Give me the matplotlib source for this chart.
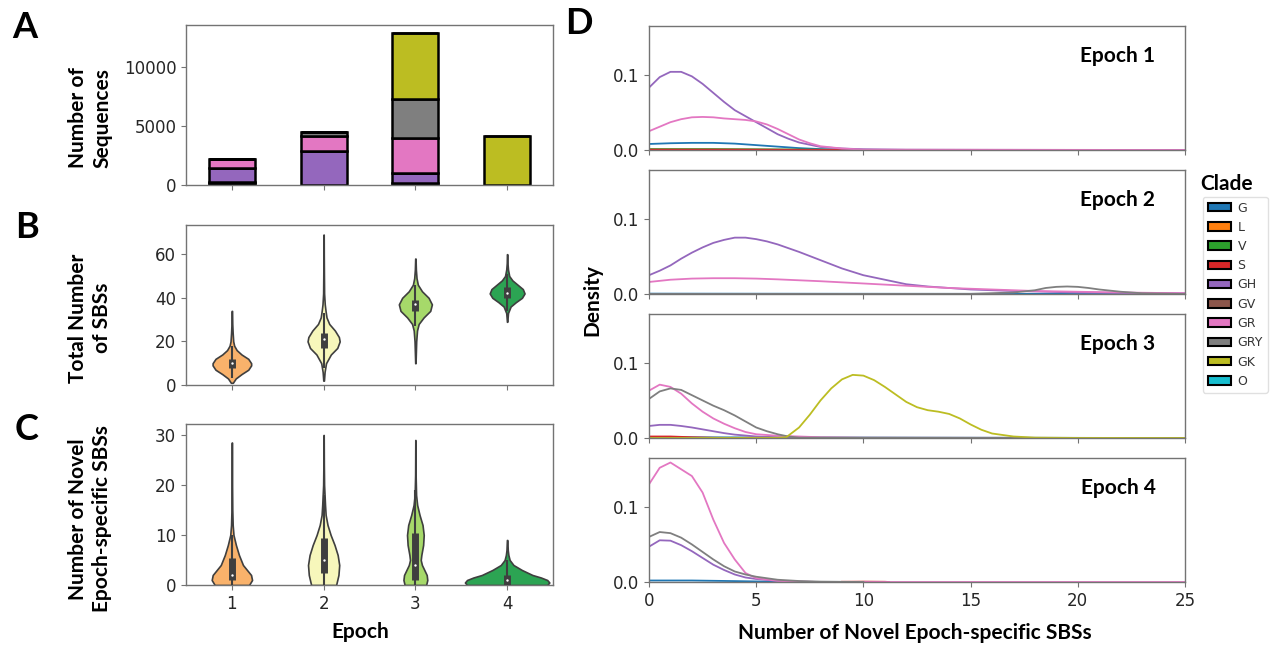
import matplotlib
matplotlib.use('Agg')
import matplotlib.pyplot as plt
from matplotlib.patches import Patch

plt.rcParams.update({
    'font.family': 'DejaVu Sans',
    'axes.edgecolor': '0.45',
    'axes.linewidth': 1.0,
    'xtick.color': '0.45',
    'ytick.color': '0.45',
    'xtick.labelcolor': '0.15',
    'ytick.labelcolor': '0.15',
    'xtick.labelsize': 12,
    'ytick.labelsize': 12,
    'xtick.major.size': 3.5,
    'ytick.major.size': 3.5,
})
BOLD = dict(family='Lato', weight='bold', color='black')

EPOCHS = ['1', '2', '3', '4']
CLADES = ['G', 'L', 'V', 'S', 'GH', 'GV', 'GR', 'GRY', 'GK', 'O']
CLADE_COLORS = ['#1f77b4', '#ff7f0e', '#2ca02c', '#d62728', '#9467bd',
                '#8c564b', '#e377c2', '#7f7f7f', '#bcbd22', '#17becf']
EPOCH_COLORS = ['#f9b26b', '#f7f7bb', '#a6d96a', '#2ca453']

# ---- Panel A: number of sequences per clade, per epoch
SEQ_G = [150, 0, 200, 20]
SEQ_L = [20, 0, 0, 0]
SEQ_V = [40, 0, 0, 0]
SEQ_S = [20, 0, 0, 0]
SEQ_GH = [1190, 2920, 850, 0]
SEQ_GV = [0, 0, 0, 0]
SEQ_GR = [790, 1270, 2970, 0]
SEQ_GRY = [0, 280, 3260, 0]
SEQ_GK = [0, 0, 5610, 4090]
SEQ_O = [0, 0, 0, 0]
SEQ_ALL = [SEQ_G, SEQ_L, SEQ_V, SEQ_S, SEQ_GH, SEQ_GV, SEQ_GR, SEQ_GRY, SEQ_GK, SEQ_O]

# ---- Panel B: total SBS violin profiles (value, relative density)
B1_Y = [1, 3, 5, 7, 9, 10, 12, 14, 16, 18, 20, 24, 28, 34]
B1_W = [0.05, 0.2, 0.5, 0.85, 1.0, 1.0, 0.85, 0.5, 0.25, 0.12, 0.07, 0.04, 0.02, 0.01]
B2_Y = [2, 6, 10, 14, 17, 20, 22, 25, 28, 31, 34, 37, 42, 50, 60, 69]
B2_W = [0.02, 0.06, 0.15, 0.45, 0.85, 1.0, 0.95, 0.7, 0.35, 0.18, 0.12, 0.07, 0.03, 0.02, 0.01, 0.005]
B3_Y = [10, 15, 20, 25, 28, 31, 34, 37, 40, 43, 46, 49, 53, 58]
B3_W = [0.01, 0.03, 0.05, 0.1, 0.2, 0.5, 0.9, 1.0, 0.8, 0.4, 0.15, 0.07, 0.03, 0.01]
B4_Y = [29, 33, 36, 38, 40, 42, 44, 46, 48, 50, 53, 56, 60]
B4_W = [0.01, 0.05, 0.2, 0.5, 0.85, 1.0, 0.9, 0.6, 0.3, 0.12, 0.05, 0.02, 0.01]
B_WIDTHS = [0.42, 0.35, 0.36, 0.38]
B_Q1 = [8, 17, 34, 40]
B_MED = [10, 21, 37, 42]
B_Q3 = [12, 24, 39, 45]
B_LO = [3, 8, 27, 34]
B_HI = [18, 33, 46, 51]

# ---- Panel C: novel epoch-specific SBS violin profiles
C1_Y = [0, 1, 2, 3, 4, 6, 8, 10, 12, 15, 20, 28.5]
C1_W = [0.85, 1.0, 0.95, 0.75, 0.55, 0.35, 0.2, 0.08, 0.04, 0.02, 0.01, 0.005]
C2_Y = [0, 2, 4, 6, 8, 10, 12, 14, 16, 18, 20, 24, 30]
C2_W = [0.8, 0.95, 1.0, 0.9, 0.7, 0.45, 0.25, 0.13, 0.09, 0.06, 0.03, 0.015, 0.005]
C3_Y = [0, 1, 2, 3, 4, 5, 6, 8, 10, 12, 14, 16, 18, 22, 29]
C3_W = [0.9, 1.0, 0.95, 0.75, 0.55, 0.45, 0.5, 0.65, 0.7, 0.6, 0.35, 0.15, 0.06, 0.02, 0.005]
C4_Y = [0, 0.5, 1, 1.5, 2, 3, 4, 5, 6, 7, 9]
C4_W = [0.95, 1.0, 0.95, 0.8, 0.6, 0.35, 0.15, 0.06, 0.03, 0.015, 0.005]
C_WIDTHS = [0.44, 0.34, 0.26, 0.92]
C_Q1 = [1, 2.5, 1, 0]
C_MED = [2, 5, 4, 1]
C_Q3 = [5.5, 9.5, 10.5, 2]
C_LO = [0, 0, 0, 0]
C_HI = [10, 18, 19, 5]

# ---- Panel D: density curves (x, density) per epoch and clade
E1_G_X = [0, 1, 2, 3, 4, 5, 6, 7, 8, 9, 10, 25]
E1_G_Y = [0.008, 0.009, 0.0095, 0.0095, 0.0085, 0.0065, 0.0045, 0.0025, 0.0012, 0.0005, 0.0002, 0.0]
E1_L_X = [0, 5, 10]
E1_L_Y = [0.0003, 0.0002, 0.0]
E1_V_X = [0, 3, 6, 9, 12]
E1_V_Y = [0.0012, 0.0012, 0.0008, 0.0003, 0.0]
E1_S_X = [0, 4, 8, 10]
E1_S_Y = [0.0005, 0.0005, 0.0002, 0.0]
E1_GH_X = [0, 0.5, 1, 1.5, 2, 2.5, 3, 3.5, 4, 4.5, 5, 5.5, 6, 6.5, 7, 8, 9, 10, 12, 25]
E1_GH_Y = [0.083, 0.097, 0.104, 0.104, 0.098, 0.088, 0.076, 0.064, 0.053, 0.045, 0.037,
           0.029, 0.021, 0.015, 0.010, 0.004, 0.002, 0.001, 0.0003, 0.0]
E1_GR_X = [0, 0.5, 1, 1.5, 2, 2.5, 3, 3.5, 4, 4.5, 5, 5.5, 6, 6.5, 7, 7.5, 8, 9, 10, 25]
E1_GR_Y = [0.025, 0.031, 0.037, 0.041, 0.0435, 0.044, 0.0435, 0.042, 0.041, 0.040, 0.038,
           0.034, 0.028, 0.021, 0.014, 0.009, 0.005, 0.002, 0.0005, 0.0]

E2_G_X = [0, 25]
E2_G_Y = [0.0005, 0.0]
E2_GH_X = [0, 0.5, 1, 1.5, 2, 2.5, 3, 3.5, 4, 4.5, 5, 5.5, 6, 7, 8, 9, 10, 11, 12, 13, 14, 15, 17, 20, 25]
E2_GH_Y = [0.025, 0.031, 0.038, 0.047, 0.055, 0.062, 0.068, 0.072, 0.075, 0.075, 0.073, 0.070,
           0.066, 0.056, 0.045, 0.034, 0.025, 0.019, 0.013, 0.010, 0.008, 0.006, 0.004, 0.002, 0.001]
E2_GR_X = [0, 1, 2, 3, 4, 5, 6, 8, 10, 12, 14, 16, 18, 20, 22, 25]
E2_GR_Y = [0.016, 0.019, 0.0205, 0.021, 0.021, 0.0205, 0.0195, 0.017, 0.014, 0.011, 0.008,
           0.006, 0.004, 0.003, 0.002, 0.001]
E2_GRY_X = [0, 15, 17, 18, 18.5, 19, 19.5, 20, 20.5, 21, 22, 23, 25]
E2_GRY_Y = [0.0, 0.0002, 0.002, 0.005, 0.008, 0.0095, 0.010, 0.0095, 0.008, 0.006, 0.003, 0.001, 0.0]

E3_G_X = [0, 10, 25]
E3_G_Y = [0.001, 0.0005, 0.0]
E3_S_X = [0, 1, 2, 3, 4]
E3_S_Y = [0.002, 0.002, 0.001, 0.0003, 0.0]
E3_GH_X = [0, 0.5, 1, 1.5, 2, 2.5, 3, 3.5, 4, 5, 6, 8, 25]
E3_GH_Y = [0.016, 0.0175, 0.0175, 0.016, 0.014, 0.0115, 0.009, 0.0065, 0.0045, 0.002, 0.001, 0.0002, 0.0]
E3_GR_X = [0, 0.5, 1, 1.5, 2, 2.5, 3, 3.5, 4, 4.5, 5, 6, 7, 8, 10, 25]
E3_GR_Y = [0.063, 0.071, 0.068, 0.059, 0.046, 0.035, 0.026, 0.019, 0.013, 0.008, 0.005,
           0.003, 0.002, 0.001, 0.0003, 0.0]
E3_GRY_X = [0, 0.5, 1, 1.5, 2, 2.5, 3, 3.5, 4, 4.5, 5, 5.5, 6, 6.5, 7, 25]
E3_GRY_Y = [0.052, 0.062, 0.066, 0.064, 0.057, 0.050, 0.043, 0.037, 0.030, 0.022, 0.014,
            0.009, 0.005, 0.002, 0.0005, 0.0]
E3_GK_X = [0, 6, 6.4, 7, 7.5, 8, 8.5, 9, 9.5, 10, 10.5, 11, 11.5, 12, 12.5, 13, 13.5, 14,
           14.5, 15, 15.5, 16, 17, 18, 20, 25]
E3_GK_Y = [0.0, 0.0003, 0.001, 0.014, 0.031, 0.050, 0.066, 0.078, 0.084, 0.083, 0.077, 0.068,
           0.058, 0.048, 0.041, 0.037, 0.035, 0.032, 0.026, 0.018, 0.011, 0.006, 0.002, 0.0005,
           0.0001, 0.0]

E4_G_X = [0, 2, 4, 6, 8]
E4_G_Y = [0.002, 0.002, 0.0012, 0.0003, 0.0]
E4_S_X = [9, 10, 11, 11.2]
E4_S_Y = [0.0003, 0.0005, 0.0003, 0.0]
E4_GH_X = [0, 0.5, 1, 1.5, 2, 2.5, 3, 3.5, 4, 4.5, 5, 6, 7, 8]
E4_GH_Y = [0.047, 0.0555, 0.055, 0.049, 0.041, 0.032, 0.023, 0.016, 0.010, 0.006, 0.004,
           0.0015, 0.0005, 0.0]
E4_GR_X = [0, 0.5, 1, 1.5, 2, 2.5, 3, 3.5, 4, 4.5, 5, 6, 7, 8, 25]
E4_GR_Y = [0.130, 0.152, 0.159, 0.150, 0.141, 0.119, 0.083, 0.052, 0.030, 0.012, 0.005,
           0.0015, 0.0005, 0.0, 0.0]
E4_GRY_X = [0, 0.5, 1, 1.5, 2, 2.5, 3, 3.5, 4, 4.5, 5, 6, 7, 8, 10]
E4_GRY_Y = [0.060, 0.0665, 0.065, 0.059, 0.050, 0.040, 0.030, 0.021, 0.014, 0.010, 0.007,
            0.003, 0.0013, 0.0005, 0.0]

D_CURVES = [
    [('G', E1_G_X, E1_G_Y), ('L', E1_L_X, E1_L_Y), ('V', E1_V_X, E1_V_Y), ('S', E1_S_X, E1_S_Y),
     ('GH', E1_GH_X, E1_GH_Y), ('GR', E1_GR_X, E1_GR_Y)],
    [('G', E2_G_X, E2_G_Y), ('GH', E2_GH_X, E2_GH_Y), ('GR', E2_GR_X, E2_GR_Y),
     ('GRY', E2_GRY_X, E2_GRY_Y)],
    [('G', E3_G_X, E3_G_Y), ('S', E3_S_X, E3_S_Y), ('GH', E3_GH_X, E3_GH_Y),
     ('GR', E3_GR_X, E3_GR_Y), ('GRY', E3_GRY_X, E3_GRY_Y), ('GK', E3_GK_X, E3_GK_Y)],
    [('G', E4_G_X, E4_G_Y), ('S', E4_S_X, E4_S_Y), ('GH', E4_GH_X, E4_GH_Y),
     ('GR', E4_GR_X, E4_GR_Y), ('GRY', E4_GRY_X, E4_GRY_Y)],
]

W, H = 1276, 645
fig = plt.figure(figsize=(W / 100, H / 100), dpi=100)


def px_axes(left, top, right, bottom):
    return fig.add_axes([left / W, 1 - bottom / H, (right - left) / W, (bottom - top) / H])


def draw_violins(ax, ys, ws, widths, q1, med, q3, lo, hi):
    stats = [{'coords': y, 'vals': w, 'mean': m, 'median': m, 'min': y[0], 'max': y[-1]}
             for y, w, m in zip(ys, ws, med)]
    pos = list(range(len(stats)))
    parts = ax.violin(stats, positions=pos, widths=widths, showextrema=False)
    for body, c in zip(parts['bodies'], EPOCH_COLORS):
        body.set_facecolor(c)
        body.set_edgecolor('#3f3f3f')
        body.set_linewidth(1.2)
        body.set_alpha(1)
    ax.vlines(pos, lo, hi, color='#3f3f3f', lw=1.5, zorder=3)
    ax.vlines(pos, q1, q3, color='#3f3f3f', lw=5, zorder=3)
    ax.scatter(pos, med, s=3, color='white', linewidths=0, zorder=4)


# ---------------- Panel A
axA = px_axes(186, 25, 553, 185)
bottom = [0, 0, 0, 0]
for vals, c in zip(SEQ_ALL, CLADE_COLORS):
    axA.bar(range(4), vals, width=0.5, bottom=bottom, color=c, edgecolor='black', linewidth=1.8)
    bottom = [b + v for b, v in zip(bottom, vals)]
axA.set_xlim(-0.5, 3.5)
axA.set_ylim(0, 13550)
axA.set_yticks([0, 5000, 10000])
axA.set_xticks(range(4))
axA.set_xticklabels([])

# ---------------- Panel B
axB = px_axes(186, 225, 553, 385)
draw_violins(axB, [B1_Y, B2_Y, B3_Y, B4_Y], [B1_W, B2_W, B3_W, B4_W], B_WIDTHS,
             B_Q1, B_MED, B_Q3, B_LO, B_HI)
axB.set_xlim(-0.5, 3.5)
axB.set_ylim(0, 73.4)
axB.set_yticks([0, 20, 40, 60])
axB.set_xticks(range(4))
axB.set_xticklabels([])

# ---------------- Panel C
axC = px_axes(186, 424, 553, 585)
draw_violins(axC, [C1_Y, C2_Y, C3_Y, C4_Y], [C1_W, C2_W, C3_W, C4_W], C_WIDTHS,
             C_Q1, C_MED, C_Q3, C_LO, C_HI)
axC.set_xlim(-0.5, 3.5)
axC.set_ylim(0, 32.2)
axC.set_yticks([0, 10, 20, 30])
axC.set_xticks(range(4))
axC.set_xticklabels(EPOCHS)

# ---------------- Panel D
clade_color = dict(zip(CLADES, CLADE_COLORS))
d_tops = [26, 170, 314, 458]
for i, top in enumerate(d_tops):
    ax = px_axes(649, top, 1185, top + 124)
    for name, xs, ys in D_CURVES[i]:
        ax.plot(xs, ys, color=clade_color[name], lw=1.3)
    ax.set_xlim(0, 25)
    ax.set_ylim(0, 0.165)
    ax.set_yticks([0.0, 0.1])
    ax.set_yticklabels(['0.0', '0.1'])
    ax.set_xticks([0, 5, 10, 15, 20, 25])
    if i < 3:
        ax.set_xticklabels([])
    ax.text(0.875, 0.76, f'Epoch {i + 1}', transform=ax.transAxes, ha='center', va='center',
            fontsize=15, **BOLD)

# ---------------- Legend
handles = [Patch(facecolor=c, edgecolor='black', linewidth=1.5) for c in CLADE_COLORS]
fig.legend(handles, CLADES, loc='upper left', bbox_to_anchor=(1200 / W, 1 - 194 / H),
           fontsize=9, handlelength=1.9, handleheight=0.65, labelspacing=0.5,
           borderpad=0.4, handletextpad=0.5, borderaxespad=0.2, frameon=True, fancybox=True,
           edgecolor='0.85', labelcolor='0.2')
fig.text(1200 / W, 1 - 184 / H, 'Clade', ha='left', va='center', fontsize=15, **BOLD)


# ---------------- Labels
def ftext(x, y, s, **kw):
    fig.text(x / W, 1 - y / H, s, **kw)


ftext(25, 27, 'A', fontsize=26, ha='center', va='center', **BOLD)
ftext(27, 227, 'B', fontsize=26, ha='center', va='center', **BOLD)
ftext(27, 430, 'C', fontsize=26, ha='center', va='center', **BOLD)
ftext(579, 24, 'D', fontsize=26, ha='center', va='center', **BOLD)
ftext(90, 118, 'Number of\nSequences', fontsize=15, rotation=90, ha='center', va='center',
      multialignment='center', linespacing=1.25, **BOLD)
ftext(90, 318, 'Total Number\nof SBSs', fontsize=15, rotation=90, ha='center', va='center',
      multialignment='center', linespacing=1.25, **BOLD)
ftext(90, 519, 'Number of Novel\nEpoch-specific SBSs', fontsize=15, rotation=90, ha='center',
      va='center', multialignment='center', linespacing=1.25, **BOLD)
ftext(360, 632, 'Epoch', fontsize=15, ha='center', va='center', **BOLD)
ftext(592, 300, 'Density', fontsize=15, rotation=90, ha='center', va='center', **BOLD)
ftext(915, 633, 'Number of Novel Epoch-specific SBSs', fontsize=15, ha='center', va='center', **BOLD)

fig.savefig('out.png', dpi=100)
